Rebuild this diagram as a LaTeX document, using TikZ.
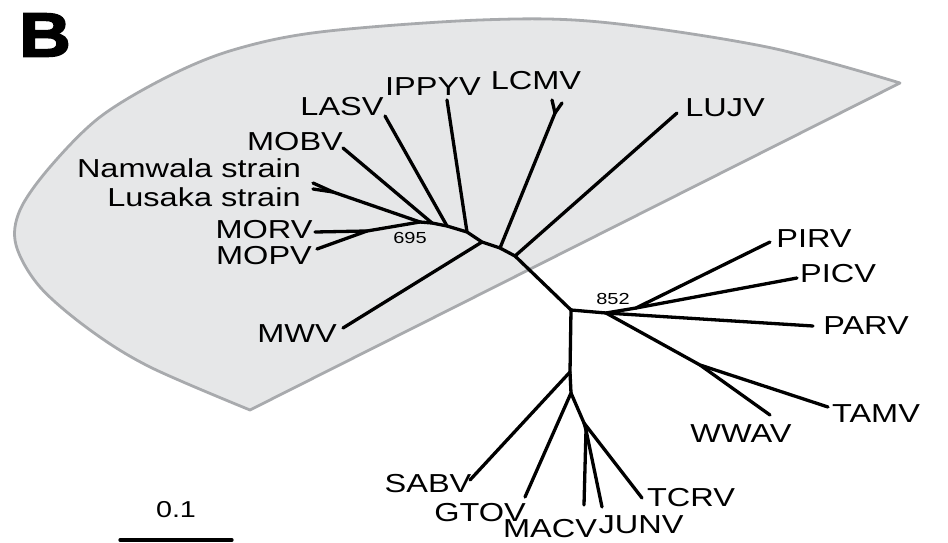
\documentclass[tikz,border=0pt]{standalone}
\usepackage{fontspec}
\setmainfont{Liberation Sans}[FakeStretch=1.25]
\newfontfamily\panelfont{Liberation Sans Bold}[FakeBold=3,FakeStretch=1.15]
\usepackage{tikz}
\usepackage{xcolor}
\usetikzlibrary{calc}

\definecolor{cladefill}{RGB}{230,231,232}
\definecolor{cladeline}{RGB}{168,170,173}

\tikzset{
  branch/.style={line width=3.3pt, line cap=round, line join=round},
  taxon/.style={font=\fontsize{26}{26}\selectfont, inner sep=0pt, text height=19pt, text depth=0pt},
  boot/.style={font=\fontsize{16}{16}\selectfont, inner sep=0pt},
}

\begin{document}
\begin{tikzpicture}[x=1pt,y=-1pt]
    \useasboundingbox (0,0) rectangle (948,543);

    % shaded Old World clade
    \filldraw[fill=cladefill, draw=cladeline, line width=2.8pt, line join=round]
      (900,83) -- (250,410)
      -- plot[smooth, tension=0.55] coordinates {(250,410) (150,367) (90,330) (40,287)
         (16,245) (20,210) (50,167) (100,117) (167,77) (233,50) (320,32) (480,20)
         (600,22) (767,47) (900,83)}
      -- cycle;

    % panel letter
    \node[inner sep=0pt, font=\panelfont\fontsize{62}{62}\selectfont] (panel) at (45,35) {B};

    % internal nodes
    \coordinate (n695) at (420,222);
    \coordinate (nMOB) at (432,223);
    \coordinate (nLAS) at (447,226);
    \coordinate (nIPP) at (467,232);
    \coordinate (nMWV) at (482,242);
    \coordinate (nLCM) at (500,248);
    \coordinate (nLUJ) at (515,256);
    \coordinate (root) at (571,310);
    \coordinate (nPAR) at (606,313);
    \coordinate (n852) at (636,308);
    \coordinate (nWWA) at (700,365);
    \coordinate (nSAB) at (570,372);
    \coordinate (nGTO) at (571,393);
    \coordinate (nTCR) at (584,423);
    \coordinate (nMAC) at (586,430);
    \coordinate (nLUS) at (333,192);
    \coordinate (nMOP) at (367,231);
    \coordinate (nLCMf) at (555,113);

    % tips
    \coordinate (LASV) at (385,116);
    \coordinate (IPPYV) at (447,100);
    \coordinate (LCMVa) at (552,100);
    \coordinate (LCMVb) at (562,103);
    \coordinate (LUJV) at (677,113);
    \coordinate (MOBV) at (343,148);
    \coordinate (Namwala) at (313,183);
    \coordinate (Lusaka) at (313,189);
    \coordinate (MORV) at (315,232);
    \coordinate (MOPV) at (317,249);
    \coordinate (MWV) at (343,328);
    \coordinate (PIRV) at (770,242);
    \coordinate (PICV) at (797,278);
    \coordinate (PARV) at (813,326);
    \coordinate (TAMV) at (828,407);
    \coordinate (WWAV) at (770,415);
    \coordinate (SABV) at (470,480);
    \coordinate (GTOV) at (525,497);
    \coordinate (MACV) at (584,505);
    \coordinate (JUNV) at (602,507);
    \coordinate (TCRV) at (642,498);

    % backbone
    \draw[branch] (n695) -- (nMOB) -- (nLAS) -- (nIPP) -- (nMWV) -- (nLCM) -- (nLUJ) -- (root);
    % Old World branches
    \draw[branch] (n695) -- (nLUS) -- (Namwala);
    \draw[branch] (nLUS) -- (Lusaka);
    \draw[branch] (n695) -- (nMOP) -- (MORV);
    \draw[branch] (nMOP) -- (MOPV);
    \draw[branch] (nMOB) -- (MOBV);
    \draw[branch] (nLAS) -- (LASV);
    \draw[branch] (nIPP) -- (IPPYV);
    \draw[branch] (nMWV) -- (MWV);
    \draw[branch] (nLCM) -- (nLCMf) -- (LCMVa);
    \draw[branch] (nLCMf) -- (LCMVb);
    \draw[branch] (nLUJ) -- (LUJV);
    % New World branches
    \draw[branch] (root) -- (nPAR) -- (PARV);
    \draw[branch] (nPAR) -- (n852) -- (PIRV);
    \draw[branch] (n852) -- (PICV);
    \draw[branch] (nPAR) -- (nWWA) -- (TAMV);
    \draw[branch] (nWWA) -- (WWAV);
    \draw[branch] (root) -- (nSAB) -- (SABV);
    \draw[branch] (nSAB) -- (nGTO) -- (GTOV);
    \draw[branch] (nGTO) -- (nTCR) -- (TCRV);
    \draw[branch] (nTCR) -- (nMAC) -- (MACV);
    \draw[branch] (nMAC) -- (JUNV);

    % taxon labels
    \node[taxon] (LASVlab) at (342,106) {LASV};
    \node[taxon] (IPPYVlab) at (433,86) {IPPYV};
    \node[taxon] (LCMVlab) at (536,80) {LCMV};
    \node[taxon] (LUJVlab) at (725,107) {LUJV};
    \node[taxon] (MOBVlab) at (295,141) {MOBV};
    \node[taxon] (Namwalalab) at (189,168) {Namwala strain};
    \node[taxon] (Lusakalab) at (204,197) {Lusaka strain};
    \node[taxon] (MORVlab) at (264,229) {MORV};
    \node[taxon] (MOPVlab) at (264,255) {MOPV};
    \node[taxon] (MWVlab) at (297,333) {MWV};
    \node[taxon] (PIRVlab) at (814,238) {PIRV};
    \node[taxon] (PICVlab) at (838,273) {PICV};
    \node[taxon] (PARVlab) at (866,325) {PARV};
    \node[taxon] (TAMVlab) at (876,413) {TAMV};
    \node[taxon] (WWAVlab) at (741,433) {WWAV};
    \node[taxon] (SABVlab) at (428,483) {SABV};
    \node[taxon] (GTOVlab) at (480,512) {GTOV};
    \node[taxon] (MACVlab) at (550,528) {MACV};
    \node[taxon] (JUNVlab) at (641,524) {JUNV};
    \node[taxon] (TCRVlab) at (691,497) {TCRV};

    % bootstrap values
    \node[boot] (b695) at (410,238) {695};
    \node[boot] (b852) at (613,299) {852};

    % scale bar
    \coordinate (bar0) at (120,540);
    \coordinate (bar1) at (232,540);
    \draw[branch] (bar0) -- (bar1);
    \node[inner sep=0pt, font=\fontsize{23}{23}\selectfont] (barlab) at (176,510) {0.1};
\end{tikzpicture}
\end{document}
